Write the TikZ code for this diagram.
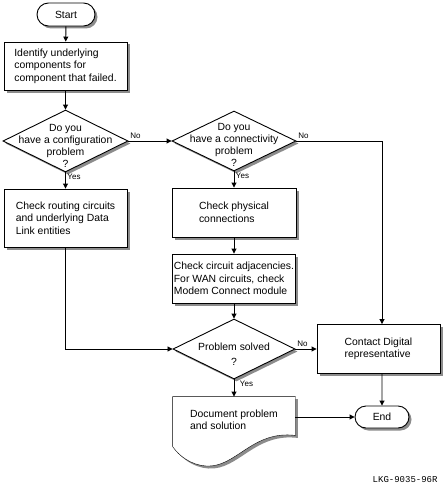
\documentclass[tikz,border=0pt]{standalone}
\usepackage{fontspec}
\setmainfont{Liberation Sans}
\setmonofont{Liberation Mono}
\usetikzlibrary{arrows.meta,shapes.geometric,shapes.misc,shadows,backgrounds,positioning,calc}

\begin{document}
\begin{tikzpicture}[x=1pt,y=-1pt,font=\fontsize{10.4}{12.5}\selectfont,line width=0.9pt,
  shade/.style={drop shadow={shadow xshift=2.5pt,shadow yshift=-2.5pt,fill=black!45,opacity=1}},
  terminal/.style={rounded rectangle,draw,fill=white,shade,inner sep=0pt},
  process/.style={rectangle,draw,fill=white,shade,align=left,inner sep=0pt},
  decision/.style={diamond,draw,fill=white,shade,inner sep=0pt},
  decisiontext/.style={align=center,inner sep=0pt,font=\fontsize{10.4}{12}\selectfont},
  edge/.style={-{Triangle[length=5pt,width=5pt]}},
  answer/.style={font=\fontsize{8}{9}\selectfont,inner sep=1.5pt}]

\useasboundingbox (0,0) rectangle (446,487);

\node (start)[terminal,minimum width=58pt,minimum height=23pt] at (66,14.5) {Start};
\node (identify)[process,minimum width=123pt,minimum height=48pt] at (65.5,66) {Identify underlying\\components for\\component that failed.};
\node (config)[decision,minimum width=125pt,minimum height=62pt] at (65.5,141) {};
\node (configtext)[decisiontext] at ([yshift=-4.5pt]config.center) {Do you\\have a configuration\\problem\\?};
\node (route)[process,minimum width=123pt,minimum height=58pt] at (65.5,218) {Check routing circuits\\and underlying Data\\Link entities};

\node (connect)[decision,minimum width=124pt,minimum height=60pt] at (234,141) {};
\node (connecttext)[decisiontext] at ([yshift=-3.5pt]connect.center) {Do you\\have a connectivity\\problem\\?};
\node (phys)[process,minimum width=124pt,minimum height=49pt] at (234,212.5) {Check physical\\connections};
\node (adj)[process,minimum width=123pt,minimum height=49pt] at (234,278.5) {Check circuit adjacencies.\\For WAN circuits, check\\Modem Connect module};
\node (solved)[decision,minimum width=122pt,minimum height=60pt] at (234,349) {};
\node (solvedtext)[decisiontext] at ([yshift=-5pt]solved.center) {Problem solved\\[3pt]?};
\node (doc)[align=left,inner sep=0pt,minimum width=122pt,minimum height=46pt] at (234,420) {Document problem\\and solution};

\node (contact)[process,minimum width=123pt,minimum height=49pt] at (378.5,349) {Contact Digital\\representative};
\node (stop)[terminal,minimum width=54pt,minimum height=22pt] at (382,417) {End};

\node (code)[anchor=east,inner sep=0pt,font=\ttfamily\fontsize{9}{10}\selectfont] at (438,480) {LKG-9035-96R};

% document outline behind its text
\begin{scope}[on background layer]
\draw[fill=white,shade] (doc.north west) -- (doc.north east) -- ([yshift=8pt]doc.south east)
  .. controls (252,430) and (236,468) .. (206,466)
  .. controls (191,465) and (179,456) .. ([yshift=-3pt]doc.south west) -- cycle;
\end{scope}

\draw [edge] (start) to (identify);
\draw [edge] (identify) to (config);
\draw [edge] (config) to node[answer,pos=0,anchor=north west]{Yes} (route);
\draw [edge] (config) to node[answer,pos=0,anchor=south west]{No} (connect);
\draw [edge] (connect) to node[answer,pos=0,anchor=north west]{Yes} (phys);
\draw [edge] (phys) to (adj);
\draw [edge] (adj) to (solved);
\draw [edge] (route) |- (solved);
\draw [edge] (solved) to node[answer,pos=0,anchor=south west]{No} (contact);
\draw [edge] (solved) to node[answer,pos=0,anchor=north west,xshift=4pt]{Yes} (doc);
\draw [edge] (connect) -| node[answer,pos=0,anchor=south west]{No} (contact.north -| stop);
\draw [edge] (contact.south -| stop) to (stop);
\draw [edge] (doc.east |- stop) to (stop);
\end{tikzpicture}
\end{document}
